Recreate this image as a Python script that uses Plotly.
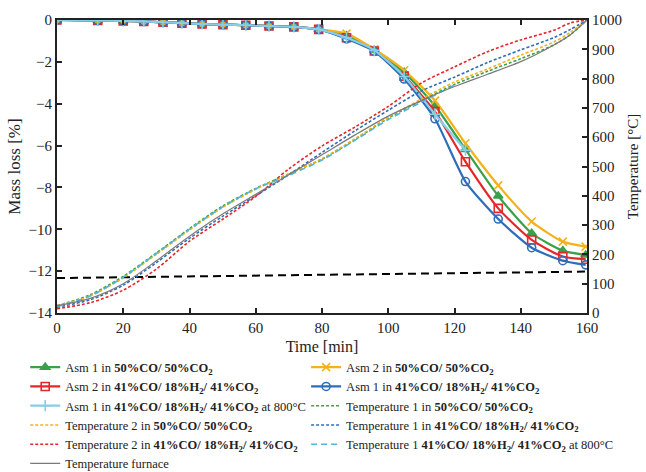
import plotly.graph_objects as go

# --- Mass loss data (left axis) ---
time_mass = [0, 12.3, 20, 26.2, 32, 37.7, 43.8, 50.1, 57, 64, 71.5, 79, 87.4, 95.8,
             104.8, 114.1, 123.3, 133.2, 143.3, 152.7, 159.6]
early = [0, -0.02, -0.04, -0.07, -0.11, -0.15, -0.19, -0.22, -0.25, -0.29, -0.33, -0.45]

asm1_co = early + [-0.75, -1.45, -2.5, -4.1, -6.18, -8.41, -10.19, -11.02, -11.23]
asm2_co = early + [-0.65, -1.4, -2.4, -3.85, -5.89, -7.9, -9.63, -10.59, -10.83]
asm2_h2 = early + [-0.85, -1.48, -2.68, -4.38, -6.77, -9.0, -10.51, -11.3, -11.43]
asm1_h2 = early + [-0.9, -1.5, -2.82, -4.72, -7.72, -9.51, -10.88, -11.5, -11.7]
asm1_800 = early + [-0.85, -1.45, -2.7, -4.5, -6.22]
time_800 = time_mass[:len(asm1_800)]

# Reference level line (mass axis)
ref_time = [0, 160]
ref_level = [-12.33, -12.02]

# --- Temperature data (right axis) ---
time_temp = [0, 10, 20, 30, 40, 50, 60, 70, 80, 90, 100, 110, 120, 130, 140, 150, 155, 160]
temp1_co = [25, 62, 125, 205, 288, 365, 425, 475, 525, 592, 665, 725, 780, 825, 868, 915, 950, 1000]
temp2_co = [25, 58, 120, 200, 283, 360, 422, 474, 527, 595, 668, 730, 788, 833, 880, 925, 958, 1000]
temp1_h2 = [20, 45, 95, 172, 255, 330, 400, 472, 548, 622, 692, 758, 805, 855, 898, 940, 968, 1000]
temp2_h2 = [15, 35, 78, 150, 245, 320, 398, 492, 570, 635, 705, 785, 840, 892, 932, 965, 990, 1000]
furnace = [25, 50, 100, 178, 262, 338, 405, 472, 540, 608, 672, 725, 773, 815, 858, 915, 950, 1000]
time_t800 = [0, 10, 20, 30, 40, 50, 60, 70, 80, 90, 100, 110, 120]
temp1_800 = [22, 58, 122, 203, 286, 362, 424, 470, 522, 590, 660, 720, 778]

GREEN = "#3aa14a"
GOLD = "#f3b21c"
RED = "#e6262b"
BLUE = "#2f6db8"
CYAN = "#86cfe6"
LBLUE = "#4fb6dc"
GRAY = "#7a7a7a"

CO = "<b>50%CO/ 50%CO<sub>2</sub></b>"
H2 = "<b>41%CO/ 18%H<sub>2</sub>/ 41%CO<sub>2</sub></b>"

fig = go.Figure()

# Temperature curves: (x, y, name, colour, dash, legend column, rank)
temp_specs = [
    (time_temp, temp1_co, "Temperature 1 in " + CO, GREEN, "3px,2px", "legend2", 3),
    (time_temp, temp2_co, "Temperature 2 in " + CO, GOLD, "3px,2px", "legend", 4),
    (time_temp, temp1_h2, "Temperature 1 in " + H2, BLUE, "3px,2px", "legend2", 4),
    (time_temp, temp2_h2, "Temperature 2 in " + H2, RED, "3px,2px", "legend", 5),
    (time_t800, temp1_800, "Temperature 1 " + H2 + " at 800°C", LBLUE, "6px,4px", "legend2", 5),
]
for x, y, name, col, dash, leg, rank in temp_specs:
    fig.add_trace(go.Scatter(
        x=x, y=y, name=name, yaxis="y2", mode="lines", legend=leg, legendrank=rank,
        line=dict(color=col, width=1.6, dash=dash, shape="spline", smoothing=0.8)))

fig.add_trace(go.Scatter(
    x=time_temp, y=furnace, name="Temperature furnace", yaxis="y2", mode="lines",
    legend="legend", legendrank=6,
    line=dict(color=GRAY, width=1.2, shape="spline", smoothing=0.8)))

fig.add_trace(go.Scatter(
    x=ref_time, y=ref_level, mode="lines", showlegend=False,
    line=dict(color="black", width=2, dash="8px,5px")))

# Mass loss curves
mass_specs = [
    (time_mass, asm1_co, "Asm 1 in " + CO, GREEN, "triangle-up", "legend", 1),
    (time_mass, asm2_co, "Asm 2 in " + CO, GOLD, "x-thin-open", "legend2", 1),
    (time_mass, asm2_h2, "Asm 2 in " + H2, RED, "square-open", "legend", 2),
    (time_mass, asm1_h2, "Asm 1 in " + H2, BLUE, "circle-open", "legend2", 2),
    (time_800, asm1_800, "Asm 1 in " + H2 + " at 800°C", CYAN, "cross-thin-open", "legend", 3),
]
for x, y, name, col, sym, leg, rank in mass_specs:
    fig.add_trace(go.Scatter(
        x=x, y=y, name=name, mode="lines+markers", legend=leg, legendrank=rank,
        line=dict(color=col, width=2.2, shape="spline", smoothing=0.6),
        marker=dict(symbol=sym, size=8, color=col,
                    line=dict(color=col, width=1.6))))

axis_font = dict(family="Liberation Serif", size=15, color="#222")
legend_common = dict(orientation="v", y=-0.135, xanchor="left", yanchor="top",
                     itemwidth=30, traceorder="normal", tracegroupgap=0,
                     font=dict(family="Liberation Serif", size=12.5, color="#222"),
                     bgcolor="rgba(0,0,0,0)")
fig.update_layout(
    width=646, height=472,
    margin=dict(l=57, r=59, t=20, b=159, autoexpand=False),
    paper_bgcolor="white", plot_bgcolor="white",
    font=dict(family="Liberation Serif", size=14, color="#222"),
    xaxis=dict(range=[0, 160], dtick=20, ticks="inside", ticklen=5, tickwidth=1.5,
               tickcolor="#222", showline=True, linecolor="#222", linewidth=2,
               mirror="ticks", showgrid=False, zeroline=False, tickfont=axis_font,
               title=dict(text="Time [min]", font=dict(family="Liberation Serif", size=16),
                          standoff=6)),
    yaxis=dict(range=[-14, 0], dtick=2, ticks="inside", ticklen=5, tickwidth=1.5,
               tickcolor="#222", showline=True, linecolor="#222", linewidth=2,
               mirror=True, showgrid=False, zeroline=False, tickfont=axis_font,
               title=dict(text="Mass loss [%]", font=dict(family="Liberation Serif", size=17),
                          standoff=4)),
    yaxis2=dict(range=[0, 1000], dtick=100, overlaying="y", side="right",
                ticks="inside", ticklen=5, tickwidth=1.5, tickcolor="#222",
                showline=True, linecolor="#222", linewidth=2, showgrid=False,
                zeroline=False, tickfont=axis_font,
                title=dict(text="Temperature [°C]", font=dict(family="Liberation Serif", size=15),
                           standoff=6)),
    legend=dict(x=-0.06, **legend_common),
    legend2=dict(x=0.47, **legend_common),
)

fig.write_html("out.html")
